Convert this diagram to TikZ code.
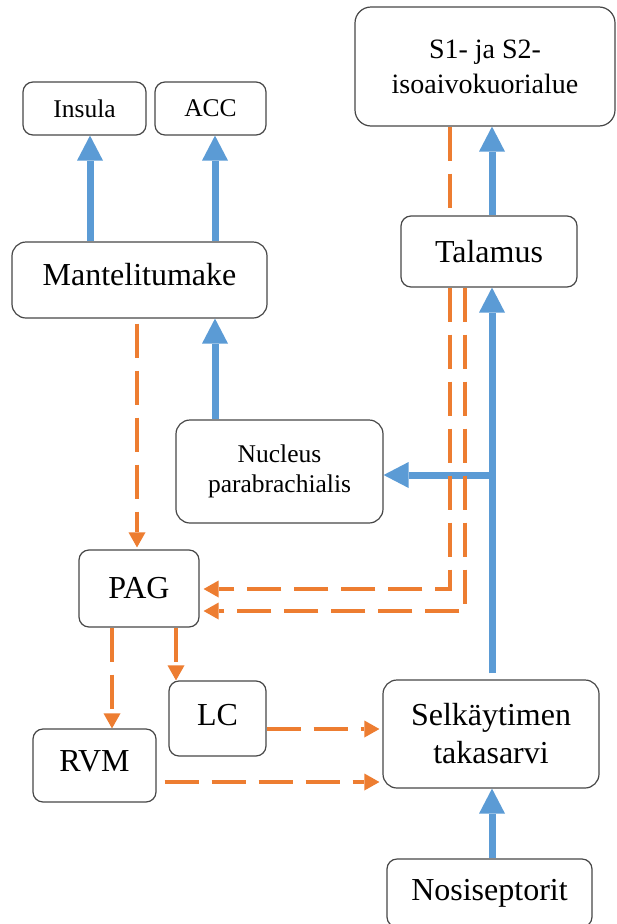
\documentclass[tikz,border=0pt]{standalone}
\usepackage{fontspec}
\setmainfont{Liberation Serif}
\usetikzlibrary{arrows.meta}

\definecolor{upblue}{HTML}{5B9BD5}
\definecolor{downorange}{HTML}{ED7D31}

\begin{document}
\begin{tikzpicture}[x=1pt,y=-1pt,
	main node/.style={draw=black!72,line width=1.2pt,rounded corners=10pt,fill=white,
		align=center,inner sep=0pt,font=\fontsize{32}{38}\selectfont},
	small node/.style={main node,font=\fontsize{25.5}{30}\selectfont},
	up/.style={draw,color=upblue,line width=7pt,-{Triangle[length=25pt,width=26pt,line width=0pt]}},
	down/.style={draw,color=downorange,line width=4pt,dash pattern=on 34pt off 13pt,
		-{Triangle[length=15pt,width=17pt,line width=0pt]}}]

	\useasboundingbox (0,0) rectangle (616,924);
	\clip (0,0) rectangle (616,924);

	\node[small node,minimum width=123pt,minimum height=53pt] (1) at (84.5,108.5) {Insula};
	\node[small node,minimum width=111pt,minimum height=53pt] (2) at (210.5,108.5) {ACC};
	\node[main node,rounded corners=16pt,minimum width=260pt,minimum height=119pt,
		font=\fontsize{28}{35}\selectfont] (3) at (485,66.5) {S1- ja S2-\\isoaivokuorialue};
	\node[main node,rounded corners=14pt,minimum width=255pt,minimum height=76pt,text depth=12pt] (4) at (139.5,280) {Mantelitumake};
	\node[main node,minimum width=176pt,minimum height=71pt] (5) at (489,251.5) {Talamus};
	\node[small node,rounded corners=14pt,minimum width=207pt,minimum height=103pt] (6) at (279.5,471.5) {Nucleus\\parabrachialis};
	\node[main node,minimum width=120pt,minimum height=77pt] (7) at (139,588.5) {PAG};
	\node[main node,minimum width=97pt,minimum height=75pt,text depth=8pt] (8) at (217.5,718.5) {LC};
	\node[main node,rounded corners=14pt,minimum width=216pt,minimum height=108pt] (9) at (491,734) {Selkäytimen\\takasarvi};
	\node[main node,minimum width=123pt,minimum height=73pt,text depth=8pt] (10) at (94.5,765.5) {RVM};
	\node[main node,minimum width=205pt,minimum height=68pt] (11) at (489.5,893) {Nosiseptorit};

	\coordinate (c1) at (90,0);
	\coordinate (c2) at (215,0);
	\coordinate (c3) at (137,0);
	\coordinate (c4) at (450,0);
	\coordinate (c5) at (465,0);
	\coordinate (c6) at (492,0);
	\coordinate (c7) at (112,0);
	\coordinate (c8) at (176,0);
	\coordinate (r1) at (0,589);
	\coordinate (r2) at (0,611);
	\coordinate (r3) at (0,475);
	\coordinate (r4) at (0,729);
	\coordinate (r5) at (0,782);

	\path[every edge/.style={up}]
		(4.north -| c1) edge (1.south -| c1)
		(4.north -| c2) edge (2.south -| c2)
		(6.north -| c2) edge (4.south -| c2)
		(5.north -| c6) edge (3.south -| c6)
		(9.north -| c6) edge[shorten <=6pt] (5.south -| c6)
		(c6 |- r3) edge (6.east |- r3)
		(11.north -| c6) edge (9.south -| c6);

	\path[every edge/.style={down}]
		(4.south -| c3) edge[shorten <=5pt,shorten >=2pt] (7.north -| c3)
		(7.south -| c7) edge (10.north -| c7)
		(7.south -| c8) edge (8.north -| c8)
		(8.east |- r4) edge[shorten >=3pt] (9.west |- r4)
		(10.east |- r5) edge[shorten <=8pt,shorten >=3pt] (9.west |- r5)
		(3.south -| c4) edge[-] (5.north -| c4);
	\draw[down,shorten >=4pt] (5.south -| c4) |- (7.east |- r1);
	\draw[down,shorten >=4pt] (5.south -| c5) |- (7.east |- r2);
\end{tikzpicture}
\end{document}
